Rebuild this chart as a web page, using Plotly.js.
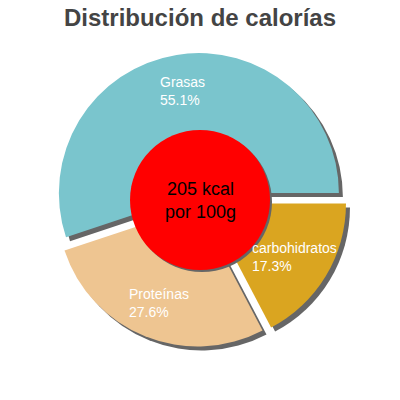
<!DOCTYPE html>
<html>
<head>
<meta charset="utf-8">
<script src="https://cdn.plot.ly/plotly-3.0.1.min.js"></script>
<style>
  html, body { margin: 0; padding: 0; background: #fff; }
  #chart { width: 400px; height: 400px; }
</style>
</head>
<body>
<div id="chart"></div>
<script>
// data
const labels = ['Grasas', 'Proteínas', 'carbohidratos'];
const percents = [55.1, 27.6, 17.3];
const colors = ['#7AC5CD', '#EEC591', '#DAA520'];
const centerLines = ['205 kcal', 'por 100g'];

const W = 400, H = 400;
const R = 140;          // pie radius in px
const pull = 0.05;      // explode fraction
const shadowOff = 4;    // px
const innerR = 70;      // red circle radius in px

const total = percents.reduce((a, b) => a + b, 0);
// plotly: with counterclockwise the first slice ends at `rotation`,
// so shift it back to start the first slice at 3 o'clock
const rot = 90 - 360 * percents[0] / total;

const half = R * (1 + pull) / W;
const dx = shadowOff / W, dy = shadowOff / H;

const pieBase = {
    type: 'pie',
    values: percents,
    labels: labels,
    sort: false,
    direction: 'counterclockwise',
    rotation: rot,
    pull: percents.map(() => pull),
    textinfo: 'none',
    showlegend: false
};

const shadow = Object.assign({}, pieBase, {
    marker: { colors: percents.map(() => '#666666'), line: { width: 0 } },
    hoverinfo: 'skip',
    domain: { x: [0.5 - half + dx, 0.5 + half + dx], y: [0.5 - half - dy, 0.5 + half - dy] }
});

const pie = Object.assign({}, pieBase, {
    marker: { colors: colors, line: { width: 0 } },
    hoverinfo: 'label+percent',
    domain: { x: [0.5 - half, 0.5 + half], y: [0.5 - half, 0.5 + half] }
});

// slice labels placed at each slice's mid angle
let cum = 0;
const annotations = labels.map((lab, i) => {
    const mid = (cum + percents[i] / 2) / total * 2 * Math.PI;
    cum += percents[i];
    const r = R * 0.79;
    return {
        xref: 'paper', yref: 'paper',
        x: 0.5 + r * Math.cos(mid) / W,
        y: 0.5 + r * Math.sin(mid) / H,
        xanchor: 'center', yanchor: 'middle', align: 'left',
        text: `${lab}<br>${percents[i].toFixed(1)}%`,
        showarrow: false,
        font: { family: 'Liberation Sans, Arial, sans-serif', size: 14, color: '#ffffff' }
    };
});

annotations.push({
    xref: 'paper', yref: 'paper', x: 0.5, y: 0.5,
    xanchor: 'center', yanchor: 'middle',
    text: centerLines.join('<br>'),
    showarrow: false,
    font: { family: 'Liberation Sans, Arial, sans-serif', size: 18, color: '#000000' }
});

const cr = innerR / W;
const layout = {
    width: W, height: H,
    margin: { l: 0, r: 0, t: 0, b: 0 },
    paper_bgcolor: '#ffffff',
    showlegend: false,
    title: {
        text: 'Distribución de calorías',
        font: { family: 'Liberation Sans, Arial, sans-serif', size: 24, color: '#444444', weight: 'bold' },
        x: 0.5, xanchor: 'center',
        yref: 'container', y: 1 - 18 / H, yanchor: 'middle'
    },
    shapes: [
        { type: 'circle', xref: 'paper', yref: 'paper', layer: 'above',
          x0: 0.5 - cr + 2 / W, x1: 0.5 + cr + 2 / W, y0: 0.5 - cr - 2 / H, y1: 0.5 + cr - 2 / H,
          fillcolor: '#666666', line: { width: 0 } },
        { type: 'circle', xref: 'paper', yref: 'paper', layer: 'above',
          x0: 0.5 - cr, x1: 0.5 + cr, y0: 0.5 - cr, y1: 0.5 + cr,
          fillcolor: '#ff0000', line: { width: 0 } }
    ],
    annotations: annotations
};

Plotly.newPlot('chart', [shadow, pie], layout, { staticPlot: true });
</script>
</body>
</html>
